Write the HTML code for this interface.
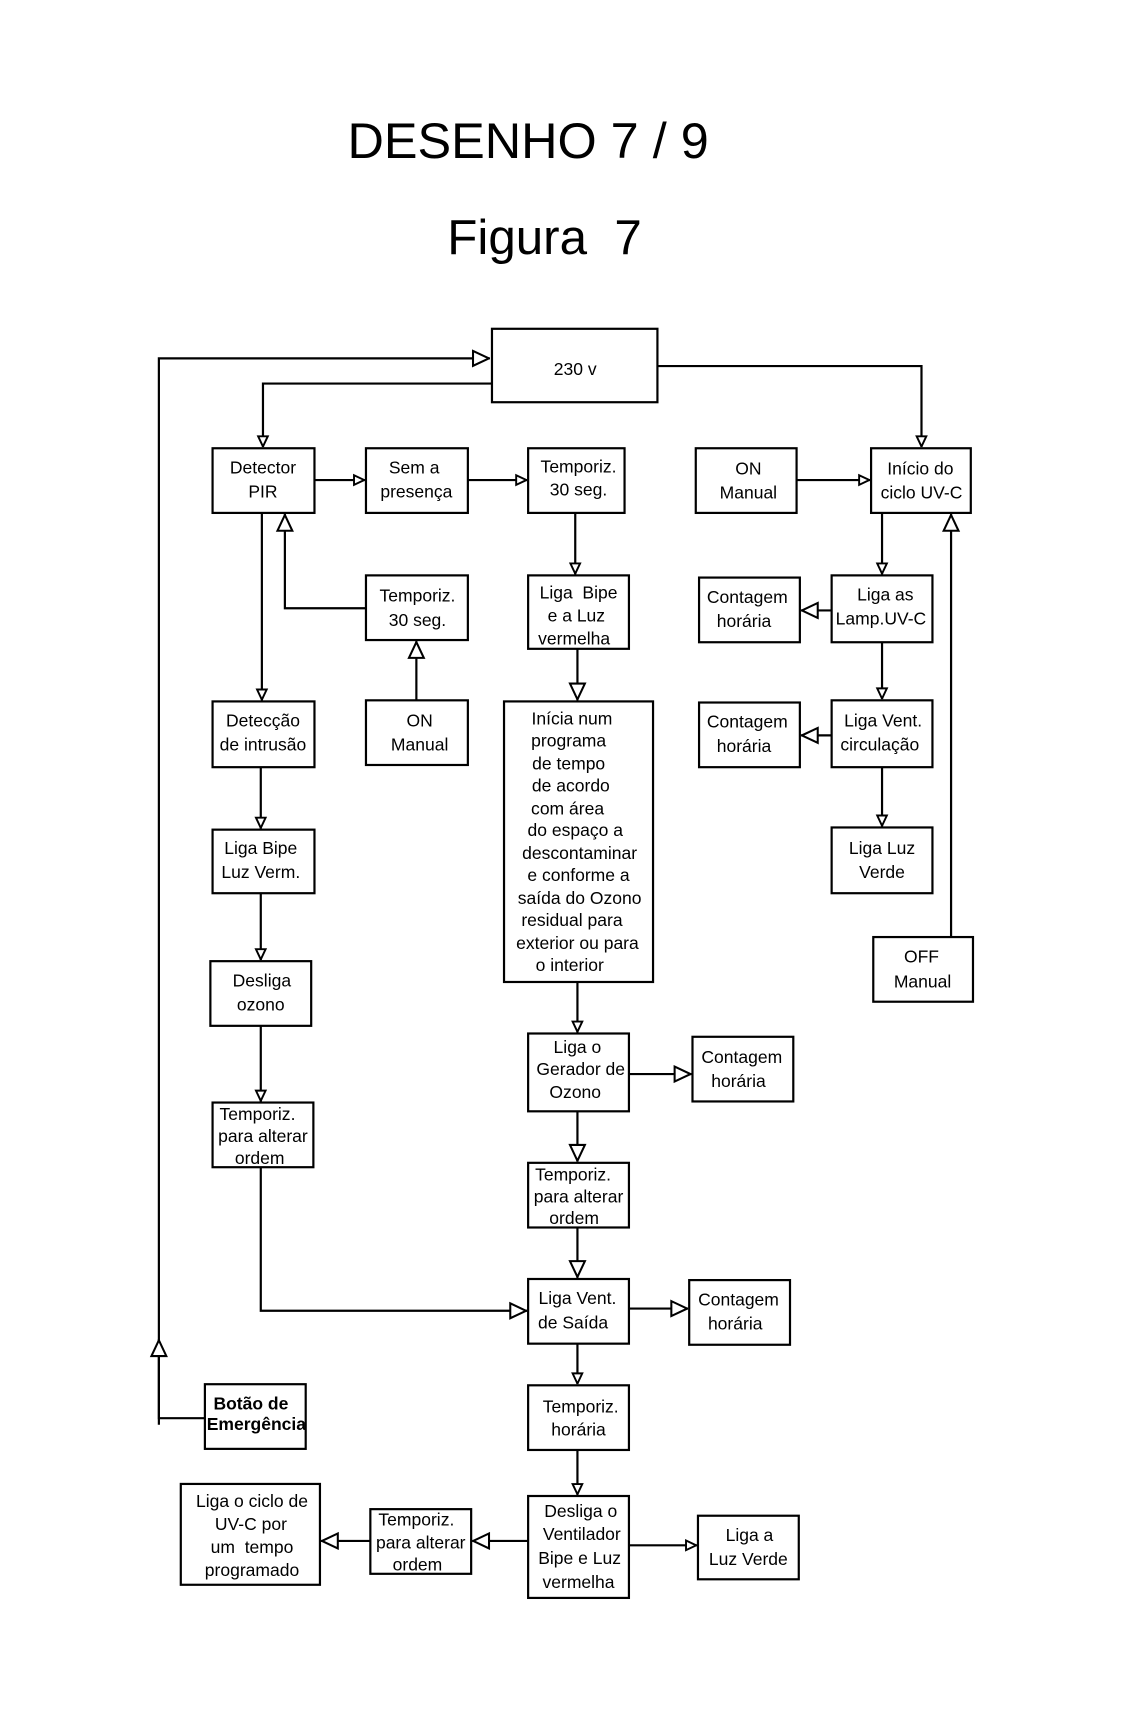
<!DOCTYPE html>
<html><head><meta charset="utf-8"><style>
html,body{margin:0;padding:0;background:#fff}
svg{display:block}
text{font-family:"Liberation Sans",Arial,sans-serif;fill:#000}
.b{fill:#fff;stroke:#000;stroke-width:2}
.l{fill:none;stroke:#000;stroke-width:2}
.s{marker-end:url(#sm)}
.g{marker-end:url(#bg)}
.t{font-size:16px;text-anchor:middle}
</style></head><body>
<svg width="1122" height="1713" viewBox="0 0 1024 1563" preserveAspectRatio="none" xmlns="http://www.w3.org/2000/svg">
<defs>
<marker id="sm" viewBox="0 0 10 10" refX="10" refY="5" markerUnits="userSpaceOnUse" markerWidth="11" markerHeight="12" orient="auto"><path d="M1,1 L9.5,5 L1,9 z" fill="#fff" stroke="#000" stroke-width="1.6"/></marker>
<marker id="bg" viewBox="0 0 10 10" refX="10" refY="5" markerUnits="userSpaceOnUse" markerWidth="17" markerHeight="17" orient="auto"><path d="M1,1 L9.5,5 L1,9 z" fill="#fff" stroke="#000" stroke-width="1.1"/></marker>
</defs>
<text x="482" y="144" font-size="46" text-anchor="middle">DESENHO 7 / 9</text>
<text x="497" y="232" font-size="45" text-anchor="middle">Figura&#160; 7</text>

<polyline class="l" points="449,350 240,350 240,408" style="marker-end:url(#sm)"/>
<polyline class="l g" points="187,1294 145,1294 145,327 447,327"/>
<polyline class="l g" points="145,1300 145,1222"/>
<polyline class="l s" points="600,334 841,334 841,408"/>
<line class="l s" x1="287" y1="438" x2="333" y2="438"/>
<line class="l s" x1="427" y1="438" x2="481" y2="438"/>
<line class="l s" x1="727" y1="438" x2="794" y2="438"/>
<polyline class="l g" points="334,555 260,555 260,469"/>
<line class="l g" x1="380" y1="639" x2="380" y2="585"/>
<line class="l s" x1="239" y1="468" x2="239" y2="639"/>
<line class="l s" x1="525" y1="468" x2="525" y2="524"/>
<line class="l g" x1="527" y1="592" x2="527" y2="639"/>
<line class="l s" x1="805" y1="468" x2="805" y2="524"/>
<line class="l g" x1="759" y1="557" x2="731" y2="557"/>
<line class="l s" x1="805" y1="586" x2="805" y2="638"/>
<line class="l g" x1="759" y1="671" x2="731" y2="671"/>
<line class="l s" x1="805" y1="700" x2="805" y2="754"/>
<line class="l g" x1="868" y1="855" x2="868" y2="469"/>
<line class="l s" x1="238" y1="700" x2="238" y2="756"/>
<line class="l s" x1="238" y1="815" x2="238" y2="876"/>
<line class="l s" x1="238" y1="936" x2="238" y2="1005"/>
<polyline class="l g" points="238,1065 238,1196 481,1196"/>
<line class="l s" x1="527" y1="896" x2="527" y2="942"/>
<line class="l g" x1="574" y1="980" x2="631" y2="980"/>
<line class="l g" x1="527" y1="1014" x2="527" y2="1060"/>
<line class="l g" x1="527" y1="1120" x2="527" y2="1166"/>
<line class="l g" x1="574" y1="1194" x2="628" y2="1194"/>
<line class="l s" x1="527" y1="1226" x2="527" y2="1263"/>
<line class="l s" x1="527" y1="1323" x2="527" y2="1364"/>
<line class="l s" x1="574" y1="1410" x2="636" y2="1410"/>
<line class="l g" x1="482" y1="1406" x2="431" y2="1406"/>
<line class="l g" x1="338" y1="1406" x2="293" y2="1406"/>

<rect class="b" x="449" y="300" width="151" height="67"/><text class="t" x="525" y="342">230 v</text>
<rect class="b" x="194" y="409" width="93" height="59"/><text class="t" x="240" y="432">Detector</text><text class="t" x="240" y="454">PIR</text>
<rect class="b" x="334" y="409" width="93" height="59"/><text class="t" x="378" y="432">Sem a</text><text class="t" x="380" y="454">presença</text>
<rect class="b" x="482" y="409" width="88" height="59"/><text class="t" x="528" y="431">Temporiz.</text><text class="t" x="528" y="452">30 seg.</text>
<rect class="b" x="635" y="409" width="92" height="59"/><text class="t" x="683" y="433">ON</text><text class="t" x="683" y="455">Manual</text>
<rect class="b" x="795" y="409" width="91" height="59"/><text class="t" x="840" y="433">Início do</text><text class="t" x="841" y="455">ciclo UV-C</text>
<rect class="b" x="334" y="525" width="93" height="59"/><text class="t" x="381" y="549">Temporiz.</text><text class="t" x="381" y="571">30 seg.</text>
<rect class="b" x="482" y="525" width="92" height="67"/><text class="t" x="528" y="546">Liga&#160; Bipe</text><text class="t" x="526" y="567">e a Luz</text><text class="t" x="524" y="588">vermelha</text>
<rect class="b" x="638" y="527" width="92" height="59"/><text class="t" x="682" y="550">Contagem</text><text class="t" x="679" y="572">horária</text>
<rect class="b" x="759" y="525" width="92" height="61"/><text class="t" x="808" y="548">Liga as</text><text class="t" x="804" y="570">Lamp.UV-C</text>
<rect class="b" x="334" y="639" width="93" height="59"/><text class="t" x="383" y="663">ON</text><text class="t" x="383" y="685">Manual</text>
<rect class="b" x="194" y="640" width="93" height="60"/><text class="t" x="240" y="663">Detecção</text><text class="t" x="240" y="685">de intrusão</text>
<rect class="b" x="460" y="640" width="136" height="256"/>
<text class="t" font-size="15.5" x="522" y="661">Inícia num</text>
<text class="t" font-size="15.5" x="519" y="681">programa</text>
<text class="t" font-size="15.5" x="519" y="702">de tempo</text>
<text class="t" font-size="15.5" x="521" y="722">de acordo</text>
<text class="t" font-size="15.5" x="518" y="743">com área</text>
<text class="t" font-size="15.5" x="525" y="763">do espaço a</text>
<text class="t" font-size="15.5" x="529" y="784">descontaminar</text>
<text class="t" font-size="15.5" x="528" y="804">e conforme a</text>
<text class="t" font-size="15.5" x="529" y="825">saída do Ozono</text>
<text class="t" font-size="15.5" x="522" y="845">residual para</text>
<text class="t" font-size="15.5" x="527" y="866">exterior ou para</text>
<text class="t" font-size="15.5" x="520" y="886">o interior</text>
<rect class="b" x="638" y="641" width="92" height="59"/><text class="t" x="682" y="664">Contagem</text><text class="t" x="679" y="686">horária</text>
<rect class="b" x="759" y="639" width="92" height="61"/><text class="t" x="806" y="663">Liga Vent.</text><text class="t" x="803" y="685">circulação</text>
<rect class="b" x="194" y="757" width="93" height="58"/><text class="t" x="238" y="779">Liga Bipe</text><text class="t" x="238" y="801">Luz Verm.</text>
<rect class="b" x="759" y="755" width="92" height="60"/><text class="t" x="805" y="779">Liga Luz</text><text class="t" x="805" y="801">Verde</text>
<rect class="b" x="797" y="855" width="91" height="59"/><text class="t" x="841" y="878">OFF</text><text class="t" x="842" y="901">Manual</text>
<rect class="b" x="192" y="877" width="92" height="59"/><text class="t" x="239" y="900">Desliga</text><text class="t" x="238" y="922">ozono</text>
<rect class="b" x="482" y="943" width="92" height="71"/><text class="t" x="527" y="961">Liga o</text><text class="t" x="530" y="981">Gerador de</text><text class="t" x="525" y="1002">Ozono</text>
<rect class="b" x="632" y="946" width="92" height="59"/><text class="t" x="677" y="970">Contagem</text><text class="t" x="674" y="992">horária</text>
<rect class="b" x="194" y="1006" width="92" height="59"/><text class="t" x="235" y="1022">Temporiz.</text><text class="t" x="240" y="1042">para alterar</text><text class="t" x="237" y="1062">ordem</text>
<rect class="b" x="482" y="1061" width="92" height="59"/><text class="t" x="523" y="1077">Temporiz.</text><text class="t" x="528" y="1097">para alterar</text><text class="t" x="524" y="1117">ordem</text>
<rect class="b" x="482" y="1167" width="92" height="59"/><text class="t" x="527" y="1190">Liga Vent.</text><text class="t" x="523" y="1212">de Saída</text>
<rect class="b" x="629" y="1168" width="92" height="59"/><text class="t" x="674" y="1191">Contagem</text><text class="t" x="671" y="1213">horária</text>
<rect class="b" x="187" y="1263" width="92" height="59"/><text class="t" x="229" y="1286" font-size="13" font-weight="bold">Botão de</text><text class="t" x="234" y="1305" font-size="13" font-weight="bold">Emergência</text>
<rect class="b" x="482" y="1264" width="92" height="59"/><text class="t" x="530" y="1289">Temporiz.</text><text class="t" x="528" y="1310">horária</text>
<rect class="b" x="165" y="1354" width="127" height="92"/><text class="t" x="230" y="1375">Liga o ciclo de</text><text class="t" x="229" y="1396">UV-C por</text><text class="t" x="230" y="1417">um&#160; tempo</text><text class="t" x="230" y="1438">programado</text>
<rect class="b" x="338" y="1377" width="92" height="59"/><text class="t" x="380" y="1392">Temporiz.</text><text class="t" x="384" y="1413">para alterar</text><text class="t" x="381" y="1433">ordem</text>
<rect class="b" x="482" y="1365" width="92" height="93"/><text class="t" x="530" y="1384">Desliga o</text><text class="t" x="531" y="1405">Ventilador</text><text class="t" x="529" y="1427">Bipe e Luz</text><text class="t" x="528" y="1449">vermelha</text>
<rect class="b" x="637" y="1383" width="92" height="58"/><text class="t" x="684" y="1406">Liga a</text><text class="t" x="683" y="1428">Luz Verde</text>
</svg>
</body></html>
